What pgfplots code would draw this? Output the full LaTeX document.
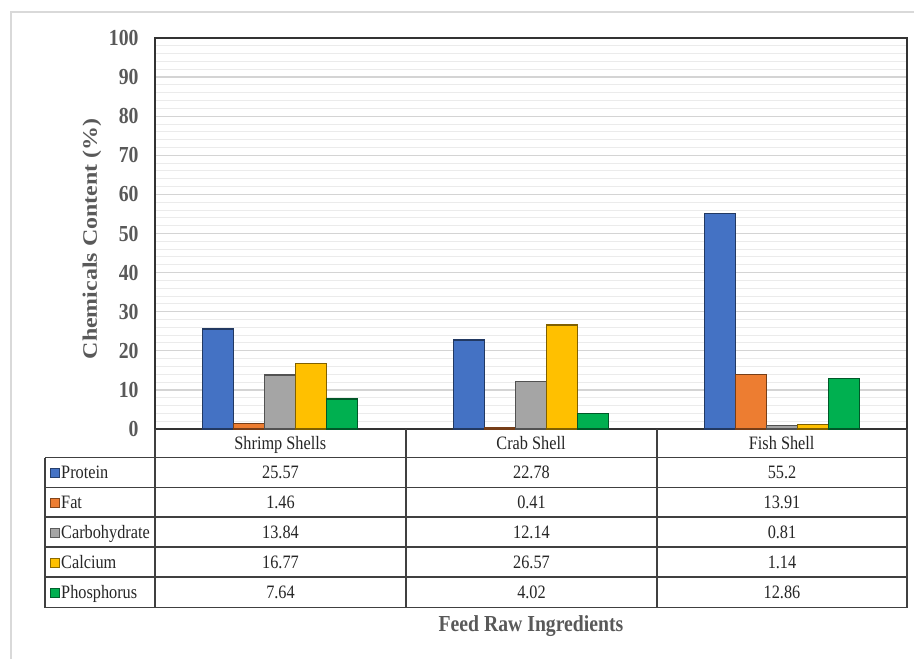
\documentclass[border=0pt]{standalone}
\usepackage{fontspec}
\setmainfont{Liberation Serif}[FakeStretch=0.86]
\newfontfamily\ylabfont{Liberation Serif}
\usepackage{graphicx}
\usepackage{pgfplots}
\usepackage{pgfplotstable}
\pgfplotsset{compat=1.18}

\definecolor{cProtein}{HTML}{4472C4}
\definecolor{cFat}{HTML}{ED7D31}
\definecolor{cCarb}{HTML}{A5A5A5}
\definecolor{cCalc}{HTML}{FFC000}
\definecolor{cPhos}{HTML}{00B050}
\definecolor{txtgray}{HTML}{595959}
\definecolor{framegray}{HTML}{D9D9D9}

\pgfplotstableread[col sep=comma]{
cat,Protein,Fat,Carbohydrate,Calcium,Phosphorus
Shrimp Shells,25.57,1.46,13.84,16.77,7.64
Crab Shell,22.78,0.41,12.14,26.57,4.02
Fish Shell,55.2,13.91,0.81,1.14,12.86
}\data

\newcommand\tablefont{\fontsize{19}{19}\selectfont}

\begin{document}
\begin{tikzpicture}[x=1bp,y=1bp]
\useasboundingbox (0,0) rectangle (914,-659);
\fill[white] (0,0) rectangle (914,-659);
\draw[framegray, line width=1.3bp] (11,-659) -- (11,-12) -- (914,-12);
\begin{axis}[
  at={(155bp,-429bp)}, anchor=south west,
  scale only axis, width=752bp, height=391bp,
  xmin=-0.5, xmax=2.5, ymin=0, ymax=100,
  ybar=0pt, bar width=31bp,
  xtick=data, xticklabels from table={\data}{cat},
  ytick={0,10,...,100}, minor y tick num=4,
  ymajorgrids, yminorgrids,
  major grid style={black!17, line width=1.3bp},
  minor grid style={black!8, line width=1bp},
  major tick length=0pt, minor tick length=0pt,
  axis line style={black!80, line width=1.3bp},
  /pgf/number format/assume math mode=true,
  yticklabel style={font=\fontsize{23}{23}\selectfont\bfseries, text=txtgray, xshift=-13bp},
  xticklabel style={font=\tablefont, text=black!85, anchor=base, yshift=-20bp},
  ylabel={\scalebox{1}[0.86]{Chemicals Content (\%)}},
  ylabel style={at={(axis description cs:-0.0838,0.486)}, anchor=center,
    font=\ylabfont\bfseries\fontsize{24}{24}\selectfont, text=txtgray},
  xlabel={Feed Raw Ingredients},
  xlabel style={at={(axis description cs:0.5,-0.5166)}, anchor=base,
    font=\bfseries\fontsize{23}{23}\selectfont, text=txtgray},
]
\addplot[fill=cProtein, draw=cProtein!50!black, line width=1.3bp] table[x expr=\coordindex, y=Protein]{\data};
\addplot[fill=cFat, draw=cFat!50!black, line width=1.3bp] table[x expr=\coordindex, y=Fat]{\data};
\addplot[fill=cCarb, draw=cCarb!50!black, line width=1.3bp] table[x expr=\coordindex, y=Carbohydrate]{\data};
\addplot[fill=cCalc, draw=cCalc!50!black, line width=1.3bp] table[x expr=\coordindex, y=Calcium]{\data};
\addplot[fill=cPhos, draw=cPhos!50!black, line width=1.3bp] table[x expr=\coordindex, y=Phosphorus]{\data};
\end{axis}
% data table below the chart
\begin{scope}[black!75, line width=1.3bp]
  \foreach \xx in {155,406,657,907} \draw (\xx,-429) -- (\xx,-607.5);
  \draw (45,-457.5) -- (45,-607.5);
  \foreach \yy in {457.5,487.5,517,547,577,607.5} \draw (45,-\yy) -- (907,-\yy);
\end{scope}
\foreach \name/\col [count=\r from 0] in {Protein/cProtein, Fat/cFat, Carbohydrate/cCarb, Calcium/cCalc, Phosphorus/cPhos} {
  \pgfmathsetmacro\yc{-472.5-30*\r}
  \filldraw[fill=\col, draw=\col!55!black, line width=0.8bp] (50,\yc-4.5) rectangle (59,\yc+4.5);
  \node[anchor=base west, font=\tablefont, text=black!85, inner sep=0] at (61,\yc-6) {\name};
  \foreach \c [count=\i from 0] in {280.5,531.5,782} {
    \pgfplotstablegetelem{\i}{\name}\of\data
    \node[anchor=base, font=\tablefont, text=black!85, inner sep=0] at (\c,\yc-6) {\pgfplotsretval};
  }
}
\end{tikzpicture}
\end{document}
